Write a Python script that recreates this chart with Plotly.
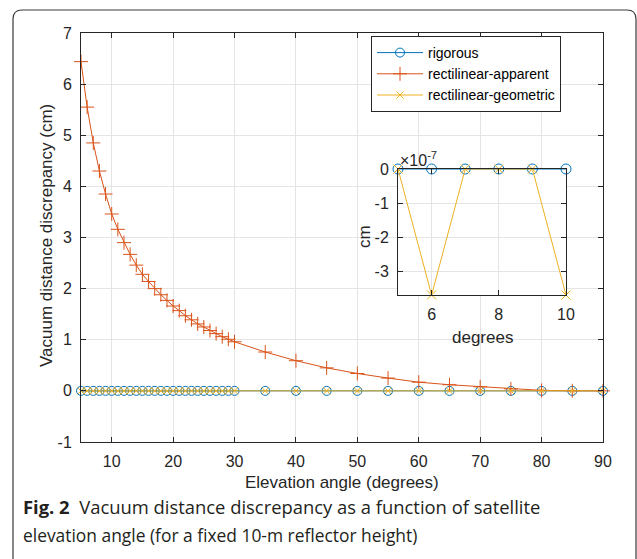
import plotly.graph_objects as go

# ---------------- data ----------------
elev = [5, 6, 7, 8, 9, 10, 11, 12, 13, 14, 15, 16, 17, 18, 19, 20, 21, 22, 23, 24,
        25, 26, 27, 28, 29, 30, 35, 40, 45, 50, 55, 60, 65, 70, 75, 80, 85, 90]
rigorous = [0, 0, 0, 0, 0, 0, 0, 0, 0, 0, 0, 0, 0, 0, 0, 0, 0, 0, 0, 0,
            0, 0, 0, 0, 0, 0, 0, 0, 0, 0, 0, 0, 0, 0, 0, 0, 0, 0]
apparent = [6.44, 5.55, 4.85, 4.30, 3.85, 3.46, 3.16, 2.90, 2.67, 2.46, 2.28, 2.14,
            2.00, 1.88, 1.77, 1.66, 1.57, 1.47, 1.39, 1.31, 1.25, 1.18, 1.12, 1.06,
            1.01, 0.96, 0.76, 0.59, 0.45, 0.34, 0.25, 0.17, 0.12, 0.08, 0.04, 0.01,
            0.002, 0.0]
geometric = [0, -3.7e-7, 0, 0, 0, -3.7e-7, 0, 0, 0, 0, 0, 0, 0, 0, 0, 0, 0, 0, 0, 0,
             0, 0, 0, 0, 0, 0, 0, 0, 0, 0, 0, 0, 0, 0, 0, 0, 0, 0]
inset_n = 6  # elevations 5..10 shown in the inset

x_ticks = [10, 20, 30, 40, 50, 60, 70, 80, 90]
y_ticks = [-1, 0, 1, 2, 3, 4, 5, 6, 7]
y_tick_text = ["-1", "0", "1", "2", "3", "4", "5", "6", "7"]
inset_x_ticks = [6, 8, 10]
inset_y_ticks = [0, -1e-7, -2e-7, -3e-7]
inset_y_text = ["0", "-1", "-2", "-3"]

# ---------------- styling ----------------
W, H = 637, 559
BLUE, RED, YEL = "#0072BD", "#D95319", "#EDB120"
AX = "#262626"
GRID = "#e4e4e4"
FONT = "Liberation Sans"


def px(x):
    return x / W


def py(y):
    return 1 - y / H


fig = go.Figure()

fig.add_trace(go.Scatter(
    x=elev, y=rigorous, name="rigorous", mode="lines+markers", cliponaxis=False,
    line=dict(color=BLUE, width=1),
    marker=dict(symbol="circle-open", size=9, color=BLUE, line=dict(width=1, color=BLUE)),
))
fig.add_trace(go.Scatter(
    x=elev, y=apparent, name="rectilinear-apparent", mode="lines+markers", cliponaxis=False,
    line=dict(color=RED, width=1),
    marker=dict(symbol="cross-thin-open", size=10, color=RED, line=dict(width=1, color=RED)),
))
fig.add_trace(go.Scatter(
    x=elev, y=geometric, name="rectilinear-geometric", mode="lines+markers", cliponaxis=False,
    line=dict(color=YEL, width=1),
    marker=dict(symbol="x-thin-open", size=7, color=YEL, line=dict(width=1, color=YEL)),
))

# inset
fig.add_trace(go.Scatter(
    x=elev[:inset_n], y=rigorous[:inset_n], mode="lines+markers", showlegend=False,
    cliponaxis=False, xaxis="x2", yaxis="y2",
    line=dict(color=BLUE, width=1),
    marker=dict(symbol="circle-open", size=10, color=BLUE, line=dict(width=1, color=BLUE)),
))
fig.add_trace(go.Scatter(
    x=elev[:inset_n], y=geometric[:inset_n], mode="lines+markers", showlegend=False,
    cliponaxis=False, xaxis="x2", yaxis="y2",
    line=dict(color=YEL, width=1),
    marker=dict(symbol="x-thin-open", size=9, color=YEL, line=dict(width=1, color=YEL)),
))

axis_common = dict(
    showline=True, linecolor=AX, linewidth=1, mirror="ticks",
    ticks="inside", ticklen=5, tickcolor=AX, tickwidth=1,
    showgrid=True, gridcolor=GRID, gridwidth=1, zeroline=False,
    tickfont=dict(family=FONT, size=16, color=AX), automargin=False,
)

fig.update_layout(
    width=W, height=H, autosize=False,
    margin=dict(l=0, r=0, t=0, b=0),
    paper_bgcolor="#ffffff", plot_bgcolor="white",
    xaxis=dict(domain=[px(81), px(603)], range=[5, 90], tickvals=x_ticks, anchor="y",
               ticklabelstandoff=5, **axis_common),
    yaxis=dict(domain=[py(442), py(33)], range=[-1, 7], tickvals=y_ticks,
               ticktext=y_tick_text, anchor="x", ticklabelstandoff=5, **axis_common),
    xaxis2=dict(domain=[px(398), px(566)], range=[5, 10], tickvals=inset_x_ticks,
                anchor="y2", ticklabelstandoff=5, **axis_common),
    yaxis2=dict(domain=[py(295), py(169)], range=[-3.7e-7, 0], tickvals=inset_y_ticks,
                ticktext=inset_y_text, anchor="x2", ticklabelstandoff=5, **axis_common),
    showlegend=True,
    legend=dict(x=px(371), y=py(36), xanchor="left", yanchor="top",
                bgcolor="white", bordercolor=AX, borderwidth=1,
                font=dict(family=FONT, size=14, color="#000000"),
                itemwidth=46, tracegroupgap=0),
)

ann = []
ann.append(dict(text="Elevation angle (degrees)", x=px(342), y=py(482), xref="paper", yref="paper",
                showarrow=False, xanchor="center", yanchor="middle",
                font=dict(family=FONT, size=17, color=AX)))
ann.append(dict(text="Vacuum distance discrepancy (cm)", x=px(46), y=py(236), xref="paper",
                yref="paper", showarrow=False, textangle=-90, xanchor="center", yanchor="middle",
                font=dict(family=FONT, size=17, color=AX)))
ann.append(dict(text="degrees", x=px(482), y=py(337), xref="paper", yref="paper",
                showarrow=False, xanchor="center", yanchor="middle",
                font=dict(family=FONT, size=17, color=AX)))
ann.append(dict(text="cm", x=px(364), y=py(237), xref="paper", yref="paper",
                showarrow=False, textangle=-90, xanchor="center", yanchor="middle",
                font=dict(family=FONT, size=17, color=AX)))
ann.append(dict(text="×10<sup>-7</sup>", x=px(398), y=py(159), xref="paper", yref="paper",
                showarrow=False, xanchor="left", yanchor="middle",
                font=dict(family=FONT, size=16, color=AX)))
# caption
CAP = "Open Sans"
ann.append(dict(text="<b>Fig. 2</b>\u00a0\u00a0Vacuum distance discrepancy as a function of satellite",
                x=px(21), y=py(506), xref="paper", yref="paper", showarrow=False,
                xanchor="left", yanchor="middle", align="left",
                font=dict(family=CAP, size=18.4, color="#231f20")))
ann.append(dict(text="elevation angle (for a fixed 10-m reflector height)",
                x=px(21), y=py(535), xref="paper", yref="paper", showarrow=False,
                xanchor="left", yanchor="middle", align="left",
                font=dict(family=CAP, size=17.4, color="#231f20")))
fig.update_layout(annotations=ann)

frame = (f"M {px(13)},{py(580)} L {px(13)},{py(19)} Q {px(13)},{py(10)} {px(22)},{py(10)} "
         f"L {px(627)},{py(10)} Q {px(636)},{py(10)} {px(636)},{py(19)} L {px(636)},{py(580)}")
fig.add_shape(type="path", path=frame, xref="paper", yref="paper",
              line=dict(color="#3a3a3a", width=1.2), layer="above")

fig.write_html("out.html")
